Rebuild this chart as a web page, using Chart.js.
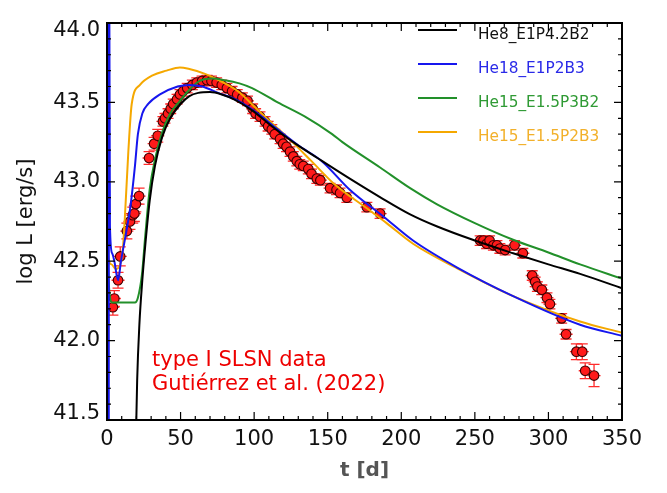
<!DOCTYPE html>
<html><head><meta charset="utf-8">
<script src="https://cdn.jsdelivr.net/npm/chart.js@4.4.1/dist/chart.umd.min.js"></script>
<style>html,body{margin:0;padding:0;background:#fff;overflow:hidden}#wrap{width:667px;height:493px}</style>
</head><body><div id="wrap"><canvas id="c" width="667" height="493" style="width:667px;height:493px"></canvas></div>
<script>
// ---- tick labels ----
const xTickValues = [0, 50, 100, 150, 200, 250, 300, 350];
const yTickValues = [41.5, 42.0, 42.5, 43.0, 43.5, 44.0];

// ---- legend / annotation text ----
const seriesNames = ['He8_E1P4.2B2', 'He18_E1P2B3', 'He15_E1.5P3B2', 'He15_E1.5P2B3'];
const noteLines = ['type I SLSN data', 'Gutiérrez et al. (2022)'];

// ---- observed data (t [d], log L, error) ----
const obsT = [4.0, 5.0, 7.5, 9.0, 13.5, 15.6, 17.5, 18.6, 19.6, 21.8, 28.6, 32.0, 34.5, 38.0, 39.4, 41.5, 43.3, 45.0, 47.6, 49.6, 51.7, 54.5, 58, 61, 64.6, 68, 71, 74.5, 78, 81.5, 85, 88.5, 92, 95.5, 99, 101, 104, 107.4, 109.5, 112, 114, 117.6, 119.7, 122, 124.4, 126.6, 129, 131, 133.4, 136.8, 139, 142.6, 145, 151.6, 156, 158.4, 163, 176.6, 185.6, 253.6, 255.8, 258, 260, 262.6, 265, 267, 270.6, 277, 282.6, 289, 291, 292.5, 295.5, 299, 301, 309, 312, 319, 323, 325, 331];
const obsL = [42.21, 42.265, 42.38, 42.53, 42.69, 42.75, 42.79, 42.80, 42.86, 42.91, 43.15, 43.24, 43.29, 43.38, 43.40, 43.43, 43.46, 43.49, 43.52, 43.55, 43.57, 43.59, 43.61, 43.625, 43.635, 43.64, 43.635, 43.625, 43.61, 43.59, 43.57, 43.55, 43.53, 43.51, 43.46, 43.43, 43.41, 43.38, 43.35, 43.33, 43.30, 43.27, 43.24, 43.22, 43.19, 43.16, 43.13, 43.11, 43.10, 43.08, 43.05, 43.02, 43.01, 42.96, 42.95, 42.93, 42.90, 42.84, 42.80, 42.63, 42.63, 42.61, 42.63, 42.60, 42.60, 42.58, 42.57, 42.60, 42.55, 42.41, 42.37, 42.34, 42.32, 42.27, 42.23, 42.14, 42.04, 41.93, 41.93, 41.81, 41.78];
const obsErr = [0.05, 0.05, 0.05, 0.06, 0.05, 0.05, 0.05, 0.05, 0.05, 0.05, 0.04, 0.04, 0.04, 0.03, 0.03, 0.03, 0.03, 0.03, 0.03, 0.03, 0.03, 0.03, 0.03, 0.03, 0.03, 0.03, 0.03, 0.03, 0.03, 0.03, 0.03, 0.03, 0.03, 0.03, 0.03, 0.03, 0.03, 0.03, 0.03, 0.03, 0.03, 0.03, 0.03, 0.03, 0.03, 0.03, 0.03, 0.03, 0.03, 0.03, 0.03, 0.03, 0.03, 0.03, 0.03, 0.03, 0.03, 0.03, 0.03, 0.03, 0.03, 0.03, 0.03, 0.03, 0.03, 0.03, 0.03, 0.03, 0.03, 0.03, 0.03, 0.03, 0.03, 0.03, 0.03, 0.03, 0.03, 0.05, 0.05, 0.05, 0.07];

// ---- model light curves ----
const blackT = [18.8, 20.5, 22, 24, 26, 29, 32.6, 37.4, 43, 50, 56, 62, 70, 78, 86, 98.6, 112, 128, 143, 165, 188, 206, 224, 250, 276, 300, 321.5, 350];
const blackL = [41.0, 41.75, 42.1, 42.38, 42.6, 42.88, 43.1, 43.28, 43.4, 43.49, 43.54, 43.56, 43.565, 43.55, 43.52, 43.45, 43.35, 43.24, 43.15, 43.02, 42.89, 42.795, 42.72, 42.63, 42.55, 42.48, 42.42, 42.33];

const blueT = [1.2, 1.3, 2.0, 3.5, 5, 7.5, 9.5, 13, 16, 19, 21, 24, 28, 36, 48, 56, 64.6, 75.5, 87, 102.6, 116, 130, 146, 165, 188, 208, 238, 276, 321.5, 350];
const blueL = [41.0, 45.0, 42.72, 42.55, 42.5, 42.38, 42.5, 42.68, 42.85, 43.1, 43.3, 43.43, 43.49, 43.55, 43.6, 43.61, 43.6, 43.56, 43.52, 43.43, 43.33, 43.23, 43.13, 42.95, 42.78, 42.63, 42.46, 42.28, 42.1, 42.03];

const greenT = [0.5, 1.5, 3.5, 19, 21, 23.8, 26, 29, 32.6, 37.4, 43, 49.6, 55, 62, 71, 80, 90, 98.6, 116, 134.6, 153, 160, 185.6, 206, 224, 250, 276, 300, 321.5, 350];
const greenL = [42.5, 42.32, 42.24, 42.24, 42.27, 42.42, 42.66, 42.95, 43.14, 43.31, 43.43, 43.51, 43.57, 43.63, 43.65, 43.64, 43.62, 43.59, 43.5, 43.41, 43.3, 43.25, 43.09, 42.96, 42.86, 42.74, 42.635, 42.555, 42.48, 42.39];

const orangeT = [0, 0.1, 0.6, 3, 6, 8.5, 10.5, 12, 14.5, 16.8, 22.4, 31, 40.5, 49.5, 56, 66.6, 78, 89, 100.6, 112, 126, 139, 154, 177, 190, 208, 238, 276, 321.5, 350];
const orangeL = [41.0, 45.0, 42.55, 42.48, 42.45, 42.47, 42.55, 42.75, 43.19, 43.49, 43.61, 43.67, 43.70, 43.72, 43.71, 43.68, 43.63, 43.57, 43.47, 43.37, 43.25, 43.13, 42.99, 42.83, 42.74, 42.61, 42.455, 42.28, 42.12, 42.05];

const lineColors = ['#000000', '#1616ee', '#22902a', '#f5a800'];
const textColors = ['#111111', '#2a2ae8', '#2f9a34', '#f2b02a'];
const FONT = "'DejaVu Sans', Verdana, sans-serif";

const toPts = (T, L) => T.map((t, i) => ({x: t, y: L[i]}));
const curves = [[blackT, blackL], [blueT, blueL], [greenT, greenL], [orangeT, orangeL]];

const datasets = curves.map((c, k) => ({
  label: seriesNames[k],
  data: toPts(c[0], c[1]),
  showLine: true,
  borderColor: lineColors[k],
  backgroundColor: lineColors[k],
  borderWidth: 2,
  pointRadius: 0,
  cubicInterpolationMode: 'monotone',
  order: 0
}));
datasets.push({
  label: noteLines[0],
  data: toPts(obsT, obsL),
  showLine: false,
  pointRadius: 4.8,
  pointBackgroundColor: '#ff1a1a',
  pointBorderColor: '#3a0000',
  pointBorderWidth: 1.1,
  order: 1
});

const decor = {
  id: 'decor',
  beforeDatasetsDraw(chart) {
    const {ctx, chartArea: a, scales: {x, y}} = chart;
    ctx.save();
    ctx.beginPath(); ctx.rect(a.left, a.top, a.right - a.left, a.bottom - a.top); ctx.clip();
    ctx.strokeStyle = '#ff2a2a'; ctx.lineWidth = 1.3;
    obsT.forEach((t, i) => {
      const px = x.getPixelForValue(t);
      const py = y.getPixelForValue(obsL[i]);
      const y1 = y.getPixelForValue(obsL[i] - obsErr[i]);
      const y2 = y.getPixelForValue(obsL[i] + obsErr[i]);
      ctx.beginPath();
      ctx.moveTo(px, y1); ctx.lineTo(px, y2);
      ctx.moveTo(px - 5.5, y1); ctx.lineTo(px + 5.5, y1);
      ctx.moveTo(px - 5.5, y2); ctx.lineTo(px + 5.5, y2);
      ctx.moveTo(px - 6.5, py); ctx.lineTo(px + 6.5, py);
      ctx.stroke();
    });
    ctx.restore();
  },
  afterDraw(chart) {
    const {ctx, chartArea: a, scales: {x, y}} = chart;
    ctx.save();
    // frame
    ctx.strokeStyle = '#000'; ctx.lineWidth = 2;
    ctx.strokeRect(a.left, a.top, a.right - a.left, a.bottom - a.top);
    ctx.lineWidth = 1.2;
    ctx.beginPath();
    for (let v = 0; v <= 350; v += 10) {
      const px = x.getPixelForValue(v);
      const len = v % 50 === 0 ? 8 : 4;
      ctx.moveTo(px, a.bottom); ctx.lineTo(px, a.bottom - len);
      ctx.moveTo(px, a.top); ctx.lineTo(px, a.top + len);
    }
    for (let k = 415; k <= 440; k++) {
      const py = y.getPixelForValue(k / 10);
      const len = k % 5 === 0 ? 8 : 4;
      ctx.moveTo(a.left, py); ctx.lineTo(a.left + len, py);
      ctx.moveTo(a.right, py); ctx.lineTo(a.right - len, py);
    }
    ctx.stroke();
    // legend
    ctx.font = '15.3px ' + FONT;
    ctx.textBaseline = 'alphabetic';
    seriesNames.forEach((n, k) => {
      const base = 38.5 + k * 34;
      ctx.strokeStyle = lineColors[k]; ctx.lineWidth = 2;
      ctx.beginPath(); ctx.moveTo(418, base - 8.5); ctx.lineTo(457, base - 8.5); ctx.stroke();
      ctx.fillStyle = textColors[k];
      ctx.fillText(n, 478, base);
    });
    // annotation
    ctx.font = '21px ' + FONT;
    ctx.fillStyle = '#ee0000';
    noteLines.forEach((s, i) => ctx.fillText(s, 152, 366 + i * 23.5));
    ctx.restore();
  }
};

const near = (a, b) => Math.abs(a - b) < 1e-6;

new Chart(document.getElementById('c'), {
  type: 'scatter',
  data: {datasets},
  options: {
    responsive: false,
    animation: false,
    devicePixelRatio: 1,
    layout: {padding: {top: 5, right: 45, left: 0, bottom: 0}},
    plugins: {legend: {display: false}, tooltip: {enabled: false}},
    scales: {
      x: {
        type: 'linear', min: 0, max: 350,
        afterBuildTicks: s => { s.ticks = xTickValues.map(v => ({value: v})); },
        afterFit: s => { s.height = 73; },
        grid: {display: false, drawTicks: false},
        border: {display: false},
        ticks: {color: '#111', font: {family: FONT, size: 21}, padding: 7, maxRotation: 0, autoSkip: false},
        title: {display: true, text: 't [d]', color: '#555', font: {family: FONT, size: 20, weight: 'bold'}, padding: {top: 0, bottom: 10}}
      },
      y: {
        type: 'linear', min: 41.5, max: 44.0,
        afterBuildTicks: s => { s.ticks = yTickValues.map(v => ({value: v})); },
        afterFit: s => { s.width = 107; },
        grid: {display: false, drawTicks: false},
        border: {display: false},
        ticks: {
          color: '#111', padding: 7, autoSkip: false,
          font: c => {
            const v = c.tick ? c.tick.value : 0;
            if (near(v, 44)) return {family: FONT, size: 21, lineHeight: '16px'};
            if (near(v, 41.5)) return {family: FONT, size: 21, lineHeight: '12px'};
            return {family: FONT, size: 21};
          },
          callback: v => near(v, 44) ? ['', v.toFixed(1)] : near(v, 41.5) ? [v.toFixed(1), ''] : v.toFixed(1)
        },
        title: {display: true, text: 'log L [erg/s]', color: '#111', font: {family: FONT, size: 21}, padding: {top: 14, bottom: 0}}
      }
    }
  },
  plugins: [decor]
});
</script>
</body></html>
